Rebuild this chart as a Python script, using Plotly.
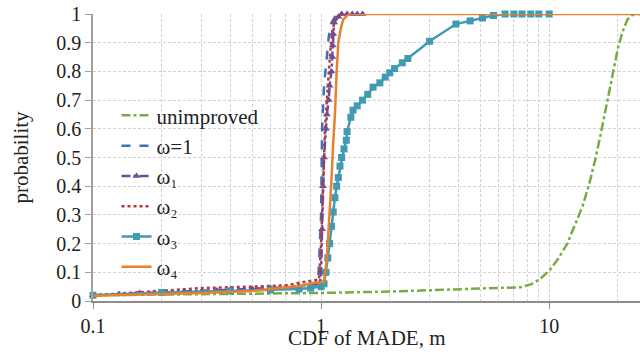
import plotly.graph_objects as go

# ---- data ----
x_un = [0.1, 0.2, 0.4, 0.7, 1.0, 2.0, 4.0, 6.0, 7.5, 8.3, 9.0, 10.0, 11.0, 12.0, 13.0, 14.0, 15.0,
        16.0, 17.0, 18.0, 19.0, 20.0, 21.0, 22.0, 23.0, 24.0, 25.0]
p_un = [0.02, 0.022, 0.024, 0.026, 0.028, 0.033, 0.04, 0.045, 0.048, 0.058, 0.073, 0.105, 0.15, 0.2,
        0.27, 0.33, 0.41, 0.5, 0.6, 0.7, 0.79, 0.88, 0.94, 0.98, 0.995, 1.0, 1.0]

x_w1 = [0.1, 0.2, 0.3, 0.5, 0.7, 0.9, 0.97, 1.0, 1.01, 1.03, 1.05, 1.08, 1.11, 1.15, 1.2]
p_w1 = [0.02, 0.03, 0.035, 0.04, 0.045, 0.055, 0.06, 0.3, 0.6, 0.75, 0.82, 0.92, 0.97, 0.99, 1.0]

x_o1 = [0.1, 0.13, 0.16, 0.2, 0.25, 0.3, 0.35, 0.4, 0.5, 0.6, 0.7, 0.8, 0.9, 0.95, 0.99, 1.0, 1.01,
        1.02, 1.03, 1.05, 1.06, 1.08, 1.09, 1.11, 1.12, 1.125, 1.13, 1.14, 1.19, 1.23, 1.3, 1.37, 1.44, 1.52]
p_o1 = [0.02, 0.024, 0.028, 0.03, 0.033, 0.035, 0.037, 0.04, 0.042, 0.045, 0.048, 0.052, 0.056, 0.06,
        0.065, 0.1, 0.25, 0.4, 0.5, 0.6, 0.65, 0.7, 0.75, 0.8, 0.85, 0.89, 0.93, 0.97, 0.99, 1.0, 1.0,
        1.0, 1.0, 1.0]

x_o2 = [0.1, 0.2, 0.3, 0.5, 0.7, 0.9, 0.98, 1.0, 1.02, 1.04, 1.06, 1.08, 1.1, 1.12, 1.15, 1.2, 1.3]
p_o2 = [0.02, 0.037, 0.045, 0.05, 0.055, 0.07, 0.075, 0.2, 0.45, 0.6, 0.7, 0.8, 0.88, 0.94, 0.98, 0.995, 1.0]

x_o3 = [0.1, 0.2, 0.4, 0.6, 0.8, 0.9, 1.0, 1.03, 1.05, 1.07, 1.09, 1.11, 1.13, 1.15, 1.17, 1.19, 1.21,
        1.23, 1.26, 1.29, 1.3, 1.35, 1.38, 1.44, 1.52, 1.6, 1.69, 1.81, 1.91, 2.0, 2.1, 2.27, 2.4, 2.99,
        3.9, 4.5, 5.1, 5.7, 6.4, 7.0, 7.6, 8.3, 9.0, 10.0]
p_o3 = [0.02, 0.03, 0.035, 0.038, 0.042, 0.045, 0.05, 0.06, 0.1, 0.15, 0.2, 0.26, 0.31, 0.36, 0.4, 0.43,
        0.47, 0.5, 0.53, 0.56, 0.59, 0.64, 0.665, 0.68, 0.7, 0.72, 0.745, 0.76, 0.78, 0.795, 0.81, 0.83,
        0.845, 0.905, 0.965, 0.976, 0.986, 0.995, 1.0, 1.0, 1.0, 1.0, 1.0, 1.0]

x_o4 = [0.1, 0.2, 0.3, 0.5, 0.8, 0.92, 1.03, 1.06, 1.09, 1.11, 1.13, 1.15, 1.17, 1.19, 1.22, 1.25, 1.3,
        1.35, 25.0]
p_o4 = [0.018, 0.024, 0.028, 0.035, 0.052, 0.063, 0.066, 0.15, 0.3, 0.42, 0.55, 0.65, 0.8, 0.9, 0.95,
        0.98, 0.995, 1.0, 1.0]

names = ["unimproved", "ω=1", "ω₁", "ω₂", "ω₃", "ω₄"]
x_ticks = [0.1, 1, 10]
y_ticks = [0, 0.1, 0.2, 0.3, 0.4, 0.5, 0.6, 0.7, 0.8, 0.9, 1]
minor_x = [m * d for d in (0.1, 1, 10) for m in range(2, 10) if m * d <= 25]

FONT = "Liberation Serif, DejaVu Serif, serif"
GRID = "#d2d2d2"
fig = go.Figure()

fig.add_trace(go.Scatter(x=x_un, y=p_un, name=names[0], mode="lines",
                         line=dict(color="#7AAB42", width=2.5, dash="dashdot")))
fig.add_trace(go.Scatter(x=x_w1, y=p_w1, name=names[1], mode="lines",
                         line=dict(color="#3D72B8", width=2.5, dash="dash")))
fig.add_trace(go.Scatter(x=x_o1, y=p_o1, name=names[2], mode="lines+markers",
                         line=dict(color="#6E4E9C", width=2.5, dash="dashdot"),
                         marker=dict(symbol="triangle-up", size=7, color="#6E4E9C")))
fig.add_trace(go.Scatter(x=x_o2, y=p_o2, name=names[3], mode="lines",
                         line=dict(color="#B13B3B", width=2.5, dash="dot")))
fig.add_trace(go.Scatter(x=x_o3, y=p_o3, name=names[4], mode="lines+markers",
                         line=dict(color="#3F9AB2", width=2.5),
                         marker=dict(symbol="square", size=7, color="#3F9AB2")))
fig.add_trace(go.Scatter(x=x_o4, y=p_o4, name=names[5], mode="lines",
                         line=dict(color="#E6822F", width=2.5)))

for i, tr in enumerate(fig.data):
    tr.cliponaxis = False
    tr.legendgroup = "g%d" % i

fig.update_layout(
    width=640, height=358,
    margin=dict(l=93, r=0, t=14, b=57),
    paper_bgcolor="white", plot_bgcolor="white",
    font=dict(family=FONT, size=20, color="#222"),
    showlegend=True,
    legend=dict(x=0.043, y=0.717, xanchor="left", yanchor="top", bgcolor="rgba(0,0,0,0)",
                font=dict(family=FONT, size=21, color="#222"), tracegroupgap=0,
                itemwidth=30),
    xaxis=dict(type="log", range=[-1, 1.398], tickvals=x_ticks, ticktext=["0.1", "1", "10"],
               showgrid=True, gridcolor=GRID, griddash="3px,2px", gridwidth=1,
               minor=dict(tickvals=minor_x, showgrid=True, gridcolor=GRID, griddash="3px,2px",
                          ticks=""),
               showline=True, linecolor="#8c8c8c", linewidth=1.5,
               ticks="outside", ticklen=6, tickcolor="#8c8c8c",
               zeroline=False,
               tickfont=dict(family=FONT, size=20)),
    yaxis=dict(range=[0, 1], tickvals=y_ticks, ticktext=[("%g" % v) for v in y_ticks],
               showgrid=True, gridcolor=GRID, griddash="3px,2px", gridwidth=1,
               showline=True, linecolor="#a0a0a0", linewidth=1.5,
               ticks="outside", ticklen=6, tickcolor="#a0a0a0",
               zeroline=False,
               title=dict(text="probability", font=dict(family=FONT, size=21), standoff=22),
               tickfont=dict(family=FONT, size=20)),
    annotations=[dict(text="CDF of MADE, m", xref="paper", yref="paper", x=0.5, y=-0.13,
                      xanchor="center", yanchor="middle", showarrow=False,
                      font=dict(family=FONT, size=21, color="#222"))],
)

fig.write_html("out.html")
